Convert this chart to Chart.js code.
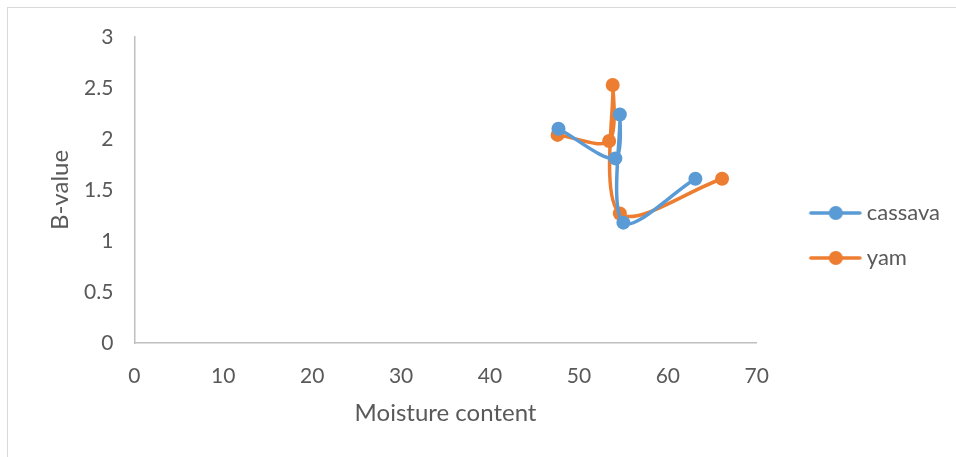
<!DOCTYPE html>
<html>
<head>
<meta charset="utf-8">
<script src="https://cdn.jsdelivr.net/npm/chart.js@4.4.1/dist/chart.umd.min.js"></script>
<style>
  html, body { margin: 0; padding: 0; background: #ffffff; }
  #wrap { position: relative; width: 956px; height: 457px; overflow: hidden; }
  #frame { position: absolute; left: 7px; top: 7px; width: 1000px; height: 500px;
           border-left: 1px solid #d9d9d9; border-top: 1px solid #d9d9d9; pointer-events: none; }
  canvas { position: absolute; left: 0; top: 0; }
</style>
</head>
<body>
<div id="wrap">
  <canvas id="c" width="956" height="457"></canvas>
  <div id="frame"></div>
</div>
<script>
const seriesNames = ["cassava", "yam"];
const cassavaX = [47.7, 54.1, 54.6, 55.0, 63.1];
const cassavaY = [2.10, 1.81, 2.24, 1.18, 1.61];
const yamX = [47.6, 53.4, 53.8, 54.6, 66.1];
const yamY = [2.04, 1.98, 2.53, 1.27, 1.61];
const xTicks = [0, 10, 20, 30, 40, 50, 60, 70];
const yTicks = [0, 0.5, 1, 1.5, 2, 2.5, 3];
const xTitle = "Moisture content";
const yTitle = "B-value";

const colors = ["#5B9BD5", "#ED7D31"];
const FONT = "Lato, 'Open Sans', sans-serif";
const TEXT = '#595959';

function pts(xs, ys) { return xs.map((x, i) => ({ x: x, y: ys[i] })); }

// legend icon: line with a dot, drawn on the right part of a wider transparent canvas
function legendIcon(color) {
  const c = document.createElement('canvas');
  c.width = 88; c.height = 18;
  const g = c.getContext('2d');
  g.strokeStyle = color; g.lineWidth = 3.5; g.lineCap = 'round';
  g.beginPath(); g.moveTo(37, 9); g.lineTo(86, 9); g.stroke();
  g.fillStyle = color;
  g.beginPath(); g.arc(62, 9, 7, 0, Math.PI * 2); g.fill();
  return c;
}
const icons = colors.map(legendIcon);

new Chart(document.getElementById('c'), {
  type: 'scatter',
  data: {
    datasets: [
      { label: seriesNames[0], data: pts(cassavaX, cassavaY) },
      { label: seriesNames[1], data: pts(yamX, yamY) }
    ].map((d, i) => Object.assign(d, {
      showLine: true,
      borderColor: colors[i],
      backgroundColor: colors[i],
      borderWidth: 3.5,
      pointRadius: 7,
      pointHoverRadius: 7,
      pointBorderWidth: 0,
      pointStyle: 'circle',
      tension: 0.33
    }))
  },
  options: {
    responsive: false,
    animation: false,
    layout: { padding: { left: 45.6, top: 37, right: 6, bottom: 23 } },
    plugins: {
      tooltip: { enabled: false },
      legend: {
        position: 'right',
        labels: {
          usePointStyle: true,
          pointStyleWidth: 76,
          padding: 23,
          color: TEXT,
          font: { family: FONT, size: 22 },
          generateLabels: (chart) => chart.data.datasets.map((ds, i) => ({
            text: ds.label,
            pointStyle: icons[i],
            fontColor: TEXT,
            fillStyle: colors[i],
            strokeStyle: colors[i],
            lineWidth: 0,
            datasetIndex: i
          }))
        }
      }
    },
    scales: {
      x: {
        type: 'linear', min: 0, max: 70,
        afterBuildTicks: (s) => { s.ticks = xTicks.map(v => ({ value: v })); },
        grid: { display: false, drawTicks: false },
        border: { display: true, color: '#bfbfbf', width: 1.5 },
        ticks: { color: TEXT, font: { family: FONT, size: 21 }, padding: 20.4, callback: (v) => String(v) },
        title: { display: true, text: xTitle, color: TEXT, font: { family: FONT, size: 24 }, padding: { top: -10.4, bottom: 6.6 } }
      },
      y: {
        type: 'linear', min: 0, max: 3,
        afterBuildTicks: (s) => { s.ticks = yTicks.map(v => ({ value: v })); },
        grid: { display: false, drawTicks: false },
        border: { display: true, color: '#bfbfbf', width: 1.5 },
        ticks: { color: TEXT, font: { family: FONT, size: 21 }, padding: 21, callback: (v) => String(v) },
        title: { display: true, text: yTitle, color: TEXT, font: { family: FONT, size: 24 }, padding: { top: 0, bottom: -11.4 } }
      }
    }
  }
});
</script>
</body>
</html>
